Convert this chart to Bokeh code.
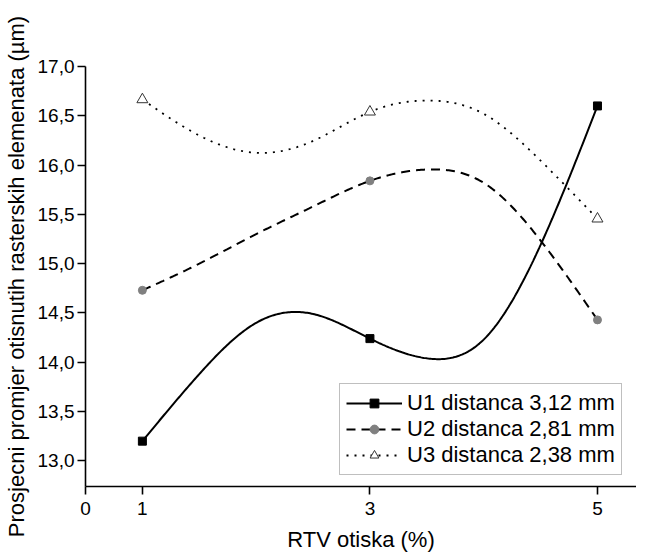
import numpy as np
from bokeh.plotting import figure
from bokeh.models import (FixedTicker, CustomJSTickFormatter, Legend, LegendItem,
                          Range1d)
from bokeh.embed import file_html
from bokeh.resources import INLINE

x_vals = [1, 3, 5]
u1_vals = [13.20, 14.24, 16.60]
u2_vals = [14.73, 15.84, 14.43]
u3_vals = [16.665, 16.54, 15.455]

# ---- the drawn smooth connecting curves ----
trace_x = [1.0, 1.5, 2.0, 2.5, 3.0, 3.5, 4.0, 4.5, 5.0]
u1_trace = [13.20, 13.88, 14.40, 14.49, 14.24, 14.04, 14.23, 15.19, 16.60]
u2_trace = [14.73, 15.00, 15.30, 15.58, 15.84, 15.955, 15.82, 15.235, 14.43]
u3_trace = [16.665, 16.30, 16.125, 16.245, 16.54, 16.655, 16.52, 16.045, 15.455]

labels = ["U1 distanca 3,12 mm", "U2 distanca 2,81 mm", "U3 distanca 2,38 mm"]
x_ticks = [0.5, 1, 3, 5]
y_ticks = [13.0, 13.5, 14.0, 14.5, 15.0, 15.5, 16.0, 16.5, 17.0]

FONT = "Liberation Sans"


def smooth(xs, ys, n=40):
    """Natural cubic spline through the traced positions (rendering only)."""
    x = np.asarray(xs, float)
    y = np.asarray(ys, float)
    k = len(x)
    h = np.diff(x)
    A = np.zeros((k, k))
    b = np.zeros(k)
    A[0, 0] = A[-1, -1] = 1.0
    for i in range(1, k - 1):
        A[i, i - 1] = h[i - 1]
        A[i, i] = 2 * (h[i - 1] + h[i])
        A[i, i + 1] = h[i]
        b[i] = 6 * ((y[i + 1] - y[i]) / h[i] - (y[i] - y[i - 1]) / h[i - 1])
    M = np.linalg.solve(A, b)
    X, Y = [], []
    for i in range(k - 1):
        t = np.linspace(x[i], x[i + 1], n)
        a = (x[i + 1] - t) / h[i]
        c = (t - x[i]) / h[i]
        yy = (a * y[i] + c * y[i + 1]
              + ((a**3 - a) * M[i] + (c**3 - c) * M[i + 1]) * h[i]**2 / 6)
        X.append(t)
        Y.append(yy)
    return np.concatenate(X), np.concatenate(Y)


p = figure(frame_width=551, frame_height=420,
           x_range=Range1d(0.5, 5.343), y_range=Range1d(12.74, 17.0),
           output_backend="svg", toolbar_location=None,
           min_border_left=79, min_border_top=66, min_border_right=0,
           min_border_bottom=50)
p.xgrid.visible = False
p.ygrid.visible = False
p.outline_line_color = None
p.background_fill_color = "white"
p.border_fill_color = "white"

for ax in (p.xaxis[0], p.yaxis[0]):
    ax.axis_line_color = "black"
    ax.axis_line_width = 1.6
    ax.major_tick_line_color = "black"
    ax.major_tick_line_width = 1.6
    ax.major_tick_out = 8
    ax.major_tick_in = 0
    ax.minor_tick_out = 0
    ax.minor_tick_in = 0
    ax.major_label_text_font = FONT
    ax.major_label_text_font_size = "19px"
    ax.major_label_text_color = "black"
    ax.axis_label_text_font = FONT
    ax.axis_label_text_font_size = "22px"
    ax.axis_label_text_font_style = "normal"
    ax.axis_label_text_color = "black"

p.xaxis.ticker = FixedTicker(ticks=x_ticks)
p.xaxis.formatter = CustomJSTickFormatter(
    code="return tick == 0.5 ? '0' : tick.toFixed(0);")
p.xaxis.major_label_standoff = 7
p.xaxis.axis_label = "RTV otiska (%)"
p.xaxis.axis_label_standoff = 9

p.yaxis.ticker = FixedTicker(ticks=y_ticks)
p.yaxis.formatter = CustomJSTickFormatter(
    code="return tick.toFixed(1).replace('.', ',');")
p.yaxis.major_label_standoff = 3
p.yaxis.axis_label = "Prosjecni promjer otisnutih rasterskih elemenata (\u00b5m)"
p.yaxis.axis_label_standoff = 6

cx1, cy1 = smooth(trace_x, u1_trace)
cx2, cy2 = smooth(trace_x, u2_trace)
cx3, cy3 = smooth(trace_x, u3_trace)

l1 = p.line(cx1, cy1, line_color="black", line_width=2)
l2 = p.line(cx2, cy2, line_color="black", line_width=2, line_dash="9 6")
l3 = p.line(cx3, cy3, line_color="black", line_width=1.8, line_dash="2 6")

m1 = p.scatter(x_vals, u1_vals, marker="square", size=8,
               fill_color="black", line_color="black")
m2 = p.scatter(x_vals, u2_vals, marker="circle", size=8,
               fill_color="#808080", line_color="#808080")
m3 = p.scatter(x_vals, u3_vals, marker="triangle", size=11,
               fill_color="white", line_color="#333333", line_width=1)

legend = Legend(items=[
    LegendItem(label=labels[0], renderers=[l1, m1]),
    LegendItem(label=labels[1], renderers=[l2, m2]),
    LegendItem(label=labels[2], renderers=[l3, m3]),
], location=(254, 11))
legend.label_text_font = FONT
legend.label_text_font_size = "22px"
legend.label_text_color = "black"
legend.glyph_width = 56
legend.glyph_height = 22
legend.label_height = 22
legend.label_standoff = 5
legend.spacing = 0
legend.padding = 6
legend.margin = 0
legend.border_line_color = "#808080"
legend.border_line_width = 1
legend.background_fill_color = "white"
legend.background_fill_alpha = 1.0
p.add_layout(legend, "center")

open("out.html", "w").write(file_html(p, INLINE))
